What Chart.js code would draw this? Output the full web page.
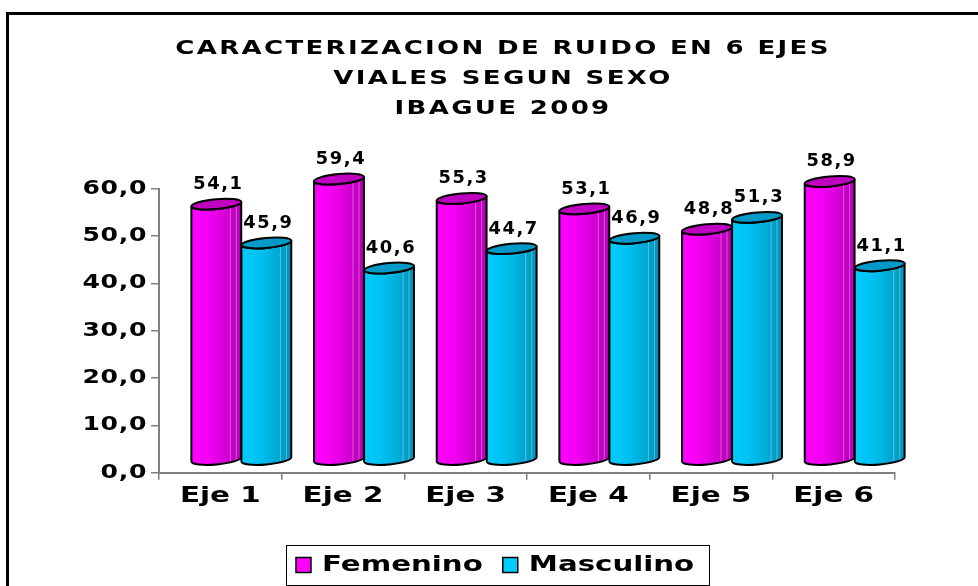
<!DOCTYPE html>
<html><head><meta charset="utf-8">
<script src="https://cdn.jsdelivr.net/npm/chart.js@4.4.0/dist/chart.umd.min.js"></script>
<style>
html,body{margin:0;padding:0;background:#fff;overflow:hidden;}
#wrap{position:relative;width:978px;height:586px;overflow:hidden;}
#frame{position:absolute;left:6px;top:12px;width:1000px;height:600px;border-left:3px solid #000;border-top:3px solid #000;pointer-events:none;}
canvas{position:absolute;left:0;top:0;}
</style></head><body>
<div id="wrap"><canvas id="c" width="978" height="586"></canvas><div id="frame"></div></div>
<script>
// ---- data ----
const titleLines = ['CARACTERIZACION DE RUIDO EN 6 EJES', 'VIALES SEGUN SEXO', 'IBAGUE 2009'];
const categories = ['Eje 1', 'Eje 2', 'Eje 3', 'Eje 4', 'Eje 5', 'Eje 6'];
const femenino = [54.1, 59.4, 55.3, 53.1, 48.8, 58.9];
const masculino = [45.9, 40.6, 44.7, 46.9, 51.3, 41.1];
const seriesNames = ['Femenino', 'Masculino'];
const yMin = 0, yMax = 60, yStep = 10;

// ---- style ----
const FONT = "'DejaVu Sans', Verdana, sans-serif";
const DX = 21, DY = 12.5, RY = 5, TILT = -0.09;
const styles = [
  { fill: '#ff00ff', cap: '#c000c0',
    body: [[0, '#ff00ff'], [0.35, '#f400f4'], [0.7, '#d200d2'], [1, '#b400b4']] },
  { fill: '#00ccff', cap: '#0099c8',
    body: [[0, '#00ccff'], [0.35, '#00c2f2'], [0.7, '#00aad6'], [1, '#0092ba']] }
];
// horizontal stretch + letter spacing per font size (the original text is widened)
const textLook = {
  '20': { sx: 1.3, ls: 1.8 },   // title
  '19': { sx: 1.32, ls: 0.5 },  // y ticks
  '21': { sx: 1.4, ls: 0 },     // x ticks
  '22': { sx: 1.33, ls: 0 },    // legend
  '17': { sx: 1.05, ls: 1.5 }   // value labels
};
const fmt = v => v.toFixed(1).replace('.', ',');

const canvas = document.getElementById('c');
const ctx2d = canvas.getContext('2d');
(function patchText(ctx) {
  const oFill = CanvasRenderingContext2D.prototype.fillText;
  const oMeasure = CanvasRenderingContext2D.prototype.measureText;
  const lookFor = c => { const m = /(\d+(?:\.\d+)?)px/.exec(c.font); return m ? textLook[m[1]] : null; };
  ctx.fillText = function (t, x, y, maxW) {
    const st = lookFor(this);
    if (!st) return maxW === undefined ? oFill.call(this, t, x, y) : oFill.call(this, t, x, y, maxW);
    this.save();
    this.letterSpacing = st.ls + 'px';
    this.translate(x, y);
    this.scale(st.sx, 1);
    oFill.call(this, t, 0, 0);
    this.restore();
  };
  ctx.measureText = function (t) {
    const st = lookFor(this);
    if (!st) return oMeasure.call(this, t);
    const prev = this.letterSpacing;
    this.letterSpacing = st.ls + 'px';
    const m = oMeasure.call(this, t);
    this.letterSpacing = prev;
    return {
      width: m.width * st.sx,
      actualBoundingBoxAscent: m.actualBoundingBoxAscent,
      actualBoundingBoxDescent: m.actualBoundingBoxDescent,
      actualBoundingBoxLeft: m.actualBoundingBoxLeft * st.sx,
      actualBoundingBoxRight: m.actualBoundingBoxRight * st.sx
    };
  };
})(ctx2d);

function cylinder(ctx, cx, w, top, bottom, st) {
  const rx = w / 2, x0 = cx - rx, x1 = cx + rx;
  const g = ctx.createLinearGradient(x0, 0, x1, 0);
  st.body.forEach(([o, c]) => g.addColorStop(o, c));
  ctx.save();
  ctx.lineJoin = 'round';
  ctx.beginPath();
  ctx.ellipse(cx, bottom, rx, RY, TILT, Math.PI, 0, true);
  ctx.ellipse(cx, top, rx, RY, TILT, 0, Math.PI, false);
  ctx.closePath();
  ctx.fillStyle = g;
  ctx.fill();
  ctx.save();
  ctx.clip();
  ctx.strokeStyle = 'rgba(255,255,255,0.35)';
  ctx.lineWidth = 1;
  [0.78, 0.9].forEach(f => {
    ctx.beginPath();
    ctx.moveTo(x0 + w * f, top - RY * 2);
    ctx.lineTo(x0 + w * f, bottom + RY * 2);
    ctx.stroke();
  });
  ctx.restore();
  ctx.strokeStyle = '#000';
  ctx.lineWidth = 2;
  ctx.beginPath();
  ctx.ellipse(cx, bottom, rx, RY, TILT, Math.PI, 0, true);
  ctx.ellipse(cx, top, rx, RY, TILT, 0, Math.PI, false);
  ctx.closePath();
  ctx.stroke();
  ctx.beginPath();
  ctx.ellipse(cx, top, rx, RY, TILT, 0, Math.PI * 2);
  ctx.fillStyle = st.cap;
  ctx.fill();
  ctx.stroke();
  ctx.restore();
}

const customPlugin = {
  id: 'custom',
  afterLayout(chart) {
    const t = chart.titleBlock;
    if (t) { t.left += 35.5; t.right += 35.5; }
    const l = chart.legend;
    if (l) { l.left += 27.6; l.right += 27.6; }
  },
  beforeDatasetDraw() { return false; },
  afterDatasetsDraw(chart) {
    const ctx = chart.ctx;
    chart.data.datasets.forEach((ds, di) => {
      const meta = chart.getDatasetMeta(di);
      meta.data.forEach(bar => {
        cylinder(ctx, bar.x + DX, bar.width, bar.y - DY, bar.base - DY, styles[di]);
      });
    });
    ctx.save();
    ctx.font = `bold 17px ${FONT}`;
    ctx.fillStyle = '#000';
    ctx.textAlign = 'center';
    ctx.textBaseline = 'alphabetic';
    chart.data.datasets.forEach((ds, di) => {
      const meta = chart.getDatasetMeta(di);
      meta.data.forEach((bar, i) => {
        ctx.fillText(fmt(ds.data[i]), bar.x + DX + 2, bar.y - DY - 15);
      });
    });
    ctx.restore();
  },
  afterDraw(chart) {
    const lg = chart.legend;
    if (!lg || !lg.legendHitBoxes || !lg.legendHitBoxes.length) return;
    const hb = lg.legendHitBoxes;
    const first = hb[0], last = hb[hb.length - 1];
    const cy = first.top + first.height / 2;
    const ctx = chart.ctx;
    ctx.save();
    ctx.strokeStyle = '#000';
    ctx.lineWidth = 1;
    const x0 = Math.round(first.left - 10) + 0.5;
    const x1 = Math.round(last.left + last.width + 15) + 0.5;
    ctx.strokeRect(x0, Math.round(cy - 20) + 0.5, x1 - x0, 40);
    ctx.restore();
  }
};

new Chart(canvas, {
  type: 'bar',
  data: {
    labels: categories,
    datasets: [
      { label: seriesNames[0], data: femenino, backgroundColor: styles[0].fill, borderColor: '#000', borderWidth: 1.5,
        categoryPercentage: 0.816, barPercentage: 1 },
      { label: seriesNames[1], data: masculino, backgroundColor: styles[1].fill, borderColor: '#000', borderWidth: 1.5,
        categoryPercentage: 0.816, barPercentage: 1 }
    ]
  },
  options: {
    responsive: false,
    animation: false,
    devicePixelRatio: 1,
    layout: { padding: { left: 40, right: 83, top: 0, bottom: 0 } },
    plugins: {
      tooltip: { enabled: false },
      title: {
        display: true,
        text: titleLines,
        color: '#000',
        font: { family: FONT, size: 20, weight: 'bold', lineHeight: 1.5 },
        padding: { top: 34, bottom: 64.7 }
      },
      legend: {
        position: 'bottom',
        align: 'center',
        labels: {
          color: '#000',
          font: { family: FONT, size: 22, weight: 'bold' },
          boxWidth: 15, boxHeight: 15, padding: 20
        }
      }
    },
    scales: {
      x: {
        afterFit: s => { s.height = 61.3; },
        grid: { display: true, drawOnChartArea: false, drawTicks: true, tickLength: 7, color: '#808080', lineWidth: 1.5, offset: true },
        border: { display: true, color: '#808080', width: 2 },
        ticks: { color: '#000', font: { family: FONT, size: 21, weight: 'bold' }, padding: 4, maxRotation: 0 }
      },
      y: {
        min: yMin, max: yMax,
        afterFit: s => { s.width = 119; },
        grid: { display: true, drawOnChartArea: false, drawTicks: true, tickLength: 8, color: '#808080', lineWidth: 1.5 },
        border: { display: true, color: '#808080', width: 2 },
        ticks: { stepSize: yStep, color: '#000', font: { family: FONT, size: 19, weight: 'bold' }, padding: 4,
          callback: v => fmt(v) }
      }
    }
  },
  plugins: [customPlugin]
});
</script>
</body></html>
